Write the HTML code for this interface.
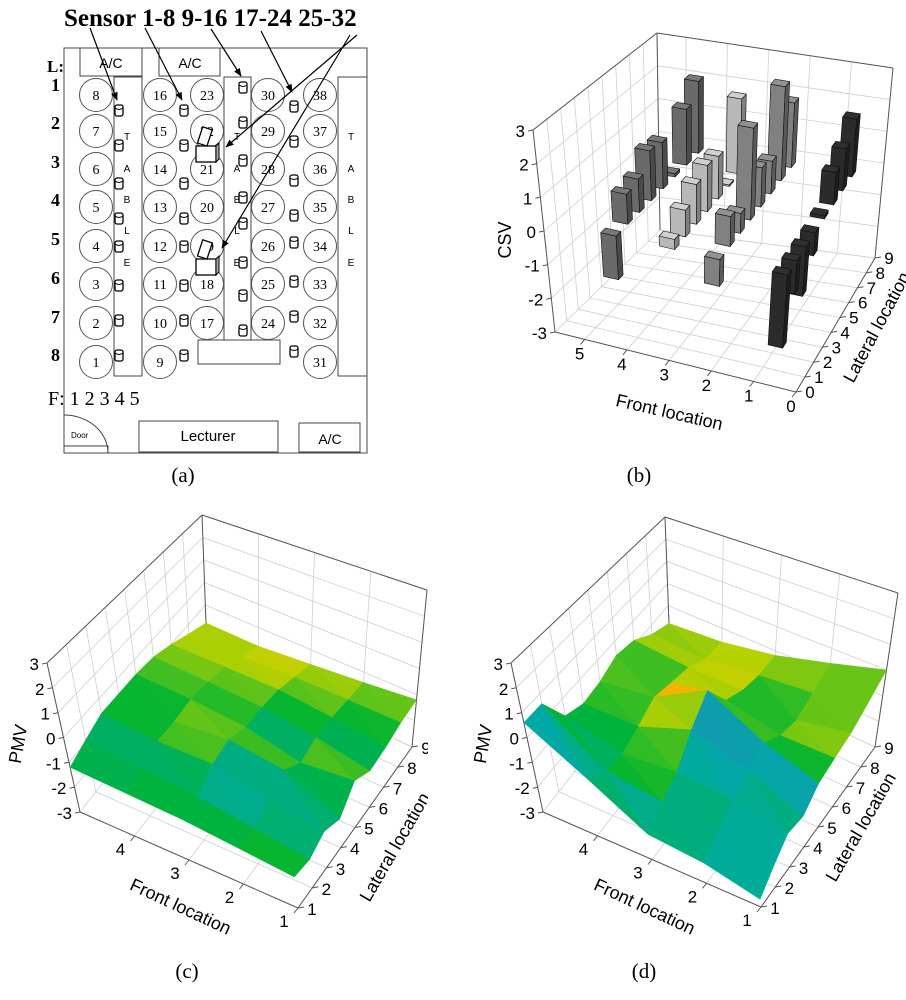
<!DOCTYPE html>
<html><head><meta charset="utf-8"><style>
html,body{margin:0;padding:0;background:#fff;}
svg{display:block;}
.serif{font-family:"Liberation Serif",serif;}
.sans{font-family:"Liberation Sans",sans-serif;}
</style></head><body>
<svg id="fig" width="906" height="1000" viewBox="0 0 906 1000" xmlns="http://www.w3.org/2000/svg">
<defs>
<marker id="arr" viewBox="0 0 10 10" refX="9" refY="5" markerWidth="7" markerHeight="7" orient="auto"><path d="M0,1 L10,5 L0,9 z" fill="#000"/></marker>
<clipPath id="clipc"><rect x="0" y="480" width="428" height="480"/></clipPath>
</defs>
<g id="panelA" class="serif">
  <text x="64" y="26" font-size="25" font-weight="bold">Sensor 1-8 9-16 17-24 25-32</text>
  <rect x="64" y="48" width="303" height="405" fill="none" stroke="#444" stroke-width="1"/>
  <rect x="80" y="48" width="62" height="28" fill="none" stroke="#444"/>
  <text x="111" y="68" font-size="14" text-anchor="middle" class="sans">A/C</text>
  <rect x="159" y="48" width="61" height="28" fill="none" stroke="#444"/>
  <text x="190" y="68" font-size="14" text-anchor="middle" class="sans">A/C</text>
  <text x="47" y="72" font-size="17" font-weight="bold">L:</text>
  <rect x="114" y="77" width="28" height="299" fill="none" stroke="#444"/>
  <rect x="224" y="77" width="27" height="263" fill="none" stroke="#444"/>
  <rect x="338" y="77" width="29" height="299" fill="none" stroke="#444"/>
  <rect x="198" y="340" width="82" height="24" fill="none" stroke="#444"/>
  <g id="rowNums"></g><g id="seats"></g><g id="tableLetters" class="sans"></g><g id="sensors"></g>
  <g><rect x="196" y="146" width="20" height="16" fill="#fff" stroke="#000" stroke-width="1.3"/><path d="M216,146 l3,-3 v16 l-3,3z" fill="#aaa" stroke="#000"/><rect x="200" y="128" width="10" height="17" fill="#fff" stroke="#000" stroke-width="1.3" transform="rotate(18 205 136)"/></g>
  <g><rect x="196" y="259" width="20" height="16" fill="#fff" stroke="#000" stroke-width="1.3"/><path d="M216,259 l3,-3 v16 l-3,3z" fill="#aaa" stroke="#000"/><rect x="200" y="241" width="10" height="17" fill="#fff" stroke="#000" stroke-width="1.3" transform="rotate(18 205 249)"/></g>
  <g stroke="#000" stroke-width="1.2" marker-end="url(#arr)">
    <line x1="90" y1="28" x2="117" y2="100"/><line x1="145" y1="28" x2="182" y2="100"/>
    <line x1="211" y1="29" x2="241" y2="76"/><line x1="261" y1="31" x2="292" y2="92"/>
    <line x1="357" y1="35" x2="226" y2="147"/><line x1="350" y1="35" x2="222" y2="248"/>
  </g>
  <text x="48" y="405" font-size="20">F: 1 2 3 4 5</text>
  <path d="M64,415 A44,38 0 0 1 108,453" fill="none" stroke="#444"/>
  <line x1="64" y1="415" x2="64" y2="453" stroke="#444"/>
  <rect x="64" y="446" width="44" height="7" fill="none" stroke="#444"/>
  <text x="71" y="438" font-size="8" class="sans">Door</text>
  <rect x="139" y="421" width="139" height="31" fill="none" stroke="#444"/>
  <text x="208" y="441" font-size="15" text-anchor="middle" class="sans">Lecturer</text>
  <rect x="299" y="423" width="61" height="29" fill="none" stroke="#444"/>
  <text x="330" y="444" font-size="14" text-anchor="middle" class="sans">A/C</text>
</g>
<g id="panelB"></g>
<g id="panelC" clip-path="url(#clipc)"></g>
<g id="panelD"></g>
<g class="serif" font-size="21" text-anchor="middle">
<text x="183" y="482">(a)</text>
<text x="639" y="482">(b)</text>
<text x="187" y="978">(c)</text>
<text x="644" y="978">(d)</text>
</g>
</svg>
<script>
// ---- data ----
const barFronts = [4.5, 3.2, 2.2, 0.7];
const barLaterals = [1, 2, 3, 4, 5, 6, 7, 8];
const csvRow1 = [-1.3, 0.9, 1.0, 1.5, 1.4, 0.1, 1.7, 2.2];
const csvRow2 = [0.3, 0.8, 1.2, 1.4, 1.3, 0.05, 2.3, 0.05];
const csvRow3 = [-0.8, 0.9, 0.6, 2.8, 1.2, 1.0, 2.9, 2.0];
const csvRow4 = [-2.2, -1.0, -1.5, -0.7, 0.1, 1.0, 1.3, 1.8];
const csvRows = [csvRow1, csvRow2, csvRow3, csvRow4];
const barColors = ['#5c5c5c', '#a0a0a0', '#707070', '#252525'];
const surfFronts = [1, 2, 3, 4, 5];
const surfLaterals = [1, 2, 3, 4, 5, 6, 7, 8, 9];
const pmvC_f1 = [-1.8, -1.9, -1.6, -1.9, -1.2, -1.6, -1.5, -1.3, -1.2];
const pmvC_f2 = [-1.6, -1.6, -1.3, -0.9, -1.4, -1.2, -1.2, -1.3, -1.4];
const pmvC_f3 = [-1.4, -1.3, -0.8, -0.6, -0.9, -0.9, -1.0, -1.3, -1.6];
const pmvC_f4 = [-1.3, -1.1, -0.8, -0.8, -0.7, -0.8, -1.0, -1.4, -1.8];
const pmvC_f5 = [-1.2, -0.9, -0.6, -0.6, -0.6, -0.7, -1.0, -1.4, -1.8];
const pmvD_f1 = [-2.7, -2.2, -1.7, -1.8, -1.3, -1.1, -0.9, -0.5, 0.0];
const pmvD_f2 = [-2.2, -1.8, -1.3, -0.9, -0.6, -1.1, -1.3, -1.0, -0.6];
const pmvD_f3 = [-2.0, -1.5, -1.1, -0.2, 0.6, -0.6, -1.0, -1.2, -1.2];
const pmvD_f4 = [-0.7, -1.2, -1.3, -1.0, -0.6, -0.8, -1.0, -1.5, -1.6];
const pmvD_f5 = [0.6, 0.6, -0.7, -1.0, -0.9, -0.6, -0.8, -1.4, -1.8];
const zTicks = [-3, -2, -1, 0, 1, 2, 3];
const frontTicksB = [0, 1, 2, 3, 4, 5];
const latTicksB = [0, 1, 2, 3, 4, 5, 6, 7, 8, 9];
const frontTicksS = [1, 2, 3, 4];
const latTicksS = [1, 2, 3, 4, 5, 6, 7, 8, 9];

const NS = 'http://www.w3.org/2000/svg';
function mk(tag, parent) { const e = document.createElementNS(NS, tag); parent.appendChild(e); return e; }

// ---- panel A static items ----
(function () {
  const rn = document.getElementById('rowNums');
  const ry = [85, 123, 162, 200, 239, 278, 317, 355];
  for (let i = 0; i < 8; i++) {
    const t = mk('text', rn);
    
    
    t.setAttribute('x', 51); t.setAttribute('y', ry[i] + 6); t.setAttribute('font-size', 18); t.setAttribute('font-weight', 'bold');
    t.textContent = String(i + 1);
  }
  const cols = [[96, 8, 1, 8], [160, 16, 9, 8], [207, 23, 17, 7], [268, 30, 24, 7], [320, 38, 31, 8]];
  const cy = [95, 131, 169, 207, 246, 284, 323, 362];
  const seats = document.getElementById('seats');
  cols.forEach(c => {
    for (let r = 0; r < c[3]; r++) {
      const ci = mk('circle', seats);
      
      
      ci.setAttribute('cx', c[0]); ci.setAttribute('cy', cy[r]); ci.setAttribute('r', 16.5);
      ci.setAttribute('fill', 'none'); ci.setAttribute('stroke', '#555');
      const t = mk('text', seats);
      
      
      t.setAttribute('x', c[0]); t.setAttribute('y', cy[r] + 5); t.setAttribute('font-size', 14); t.setAttribute('text-anchor', 'middle');
      t.textContent = String(c[1] - r);
    }
  });
  const tl = document.getElementById('tableLetters');
  const letters = ['T', 'A', 'B', 'L', 'E'], ly = [136, 168, 199, 230, 262];
  [127, 237, 351].forEach(x => letters.forEach((L, i) => {
    const t = mk('text', tl);
    
    
    t.setAttribute('x', x); t.setAttribute('y', ly[i] + 4); t.setAttribute('font-size', 10); t.setAttribute('text-anchor', 'middle');
    t.textContent = L;
  }));
  const sens = document.getElementById('sensors');
  const sc = [[119, [110, 145, 183, 218, 246, 285, 320, 355]], [184, [110, 145, 183, 218, 246, 285, 320, 355]],
    [243, [87, 122, 160, 197, 223, 262, 295, 330]], [294, [106, 141, 180, 215, 242, 281, 316, 351]]];
  sc.forEach(s => s[1].forEach(y => {
    const g = mk('g', sens);
    
    
    const r = mk('rect', g);
    r.setAttribute('x', s[0] - 4); r.setAttribute('y', y - 5); r.setAttribute('width', 8); r.setAttribute('height', 11); r.setAttribute('rx', 2);
    r.setAttribute('fill', '#fff'); r.setAttribute('stroke', '#000'); r.setAttribute('stroke-width', 1.3);
    const l = mk('path', g);
    l.setAttribute('d', `M${s[0] - 4},${y - 2} Q${s[0]},${y + 1} ${s[0] + 4},${y - 2}`);
    l.setAttribute('fill', 'none'); l.setAttribute('stroke', '#000');
  }));
})();

// ---- 3D helpers ----
function makeProj(C, fr, lr, zr) {
  return function (f, l, z) {
    const u = (f - fr[0]) / (fr[1] - fr[0]), v = (l - lr[0]) / (lr[1] - lr[0]), w = (z - zr[0]) / (zr[1] - zr[0]);
    let x = 0, y = 0;
    for (const k in C) {
      const a = k[0] === '1' ? u : 1 - u, b = k[1] === '1' ? v : 1 - v, c = k[2] === '1' ? w : 1 - w;
      x += a * b * c * C[k][0]; y += a * b * c * C[k][1];
    }
    return [x, y];
  };
}
function line(g, p, q, col, sw) {
  const e = mk('line', g);
  e.setAttribute('x1', p[0].toFixed(1)); e.setAttribute('y1', p[1].toFixed(1));
  e.setAttribute('x2', q[0].toFixed(1)); e.setAttribute('y2', q[1].toFixed(1));
  e.setAttribute('stroke', col); e.setAttribute('stroke-width', sw);
  return e;
}
function poly(g, pts, fill, stroke) {
  const e = mk('polygon', g);
  e.setAttribute('points', pts.map(p => p[0].toFixed(1) + ',' + p[1].toFixed(1)).join(' '));
  e.setAttribute('fill', fill);
  e.setAttribute('stroke', stroke || fill);
  e.setAttribute('stroke-width', stroke ? 0.6 : 0.5);
  e.setAttribute('stroke-linejoin', 'round');
  return e;
}
function txt(g, x, y, s, size, anchor, rot) {
  const e = mk('text', g);
  e.setAttribute('x', x.toFixed(1)); e.setAttribute('y', y.toFixed(1));
  e.setAttribute('font-size', size); e.setAttribute('text-anchor', anchor || 'middle');
  e.setAttribute('font-family', '"Liberation Sans", sans-serif');
  if (rot) e.setAttribute('transform', `rotate(${rot} ${x.toFixed(1)} ${y.toFixed(1)})`);
  e.textContent = s;
  return e;
}
function drawAxes(g, P, fr, lr, fTicks, lTicks, opt) {
  const grid = mk('g', g);
  
  
  const gc = '#cfcfcf';
  zTicks.forEach(z => { line(grid, P(fr[0], lr[0], z), P(fr[0], lr[1], z), gc, 0.8); line(grid, P(fr[0], lr[1], z), P(fr[1], lr[1], z), gc, 0.8); });
  lTicks.forEach(l => { line(grid, P(fr[0], l, -3), P(fr[0], l, 3), gc, 0.8); line(grid, P(fr[0], l, -3), P(fr[1], l, -3), gc, 0.8); });
  fTicks.forEach(f => { line(grid, P(f, lr[1], -3), P(f, lr[1], 3), gc, 0.8); line(grid, P(f, lr[0], -3), P(f, lr[1], -3), gc, 0.8); });
  const ax = mk('g', g);
  
  
  const ac = '#555';
  line(ax, P(fr[0], lr[0], -3), P(fr[0], lr[0], 3), ac, 1);
  line(ax, P(fr[0], lr[0], 3), P(fr[0], lr[1], 3), ac, 1);
  line(ax, P(fr[0], lr[1], 3), P(fr[1], lr[1], 3), ac, 1);
  line(ax, P(fr[1], lr[1], 3), P(fr[1], lr[1], -3), ac, 1);
  line(ax, P(fr[0], lr[0], -3), P(fr[1], lr[0], -3), ac, 1);
  line(ax, P(fr[1], lr[0], -3), P(fr[1], lr[1], -3), ac, 1);
  line(ax, P(fr[0], lr[1], -3), P(fr[0], lr[1], 3), ac, 1);
  const lab = mk('g', g);
  
  
  zTicks.forEach(z => {
    const p = P(fr[0], lr[0], z);
    line(lab, p, [p[0] - 5, p[1] + 1], ac, 1);
    txt(lab, p[0] - 8, p[1] + opt.zdy, String(z), 17, 'end');
  });
  fTicks.forEach(f => {
    const p = P(f, lr[0], -3);
    line(lab, p, [p[0] - 4, p[1] + 5], ac, 1);
    txt(lab, p[0] + opt.fdx, p[1] + opt.fdy, String(f), 17, 'middle');
  });
  lTicks.forEach(l => {
    const p = P(fr[1], l, -3);
    line(lab, p, [p[0] + 6, p[1] - 1], ac, 1);
    txt(lab, p[0] + opt.ldx, p[1] + opt.ldy, String(l), 17, 'middle');
  });
}
function ramp(t) {
  t = Math.max(0, Math.min(1, t));
  const stops = [[0, [40, 130, 190]], [0.25, [0, 170, 165]], [0.5, [0, 180, 50]], [0.78, [190, 210, 0]], [1, [240, 180, 0]]];
  for (let i = 0; i < stops.length - 1; i++) {
    const a = stops[i], b = stops[i + 1];
    if (t <= b[0]) {
      const s = (t - a[0]) / (b[0] - a[0]);
      return 'rgb(' + a[1].map((c, j) => Math.round(c + (b[1][j] - c) * s)).join(',') + ')';
    }
  }
  return 'rgb(240,180,0)';
}

// ---- panel B: bars ----
(function () {
  const g = document.getElementById('panelB');
  const fr = [5.7, 0], lr = [0, 9];
  const P = makeProj({ '000': [555, 332], '100': [796, 392], '110': [875, 258], '010': [660, 230], '001': [533, 130], '011': [657, 33], '111': [893, 68], '101': [813, 192] }, fr, lr, [-3, 3]);
  drawAxes(g, P, fr, lr, frontTicksB, latTicksB, { zdy: 7, fdx: -5, fdy: 20, ldx: 14, ldy: 6 });
  const bars = [];
  barFronts.forEach((f, i) => barLaterals.forEach((l, j) => bars.push({ f: f, l: l, v: csvRows[i][j], c: barColors[i] })));
  bars.sort((a, b) => P(a.f, a.l, 0)[1] - P(b.f, b.l, 0)[1]);
  const bg = mk('g', g);
  
  
  function shade(hex, k) {
    const n = parseInt(hex.slice(1), 16);
    return 'rgb(' + [n >> 16, (n >> 8) & 255, n & 255].map(c => Math.min(255, Math.round(c * k))).join(',') + ')';
  }
  bars.forEach(b => {
    const h = 0.17, hl = 0.2;
    const z0 = Math.min(0, b.v), z1 = Math.max(0, b.v);
    const bar = mk('g', bg);
    
    
    const fa = b.f + h, fb = b.f - h, la = b.l - hl, lb = b.l + hl;
    poly(bar, [P(fa, la, z0), P(fb, la, z0), P(fb, la, z1), P(fa, la, z1)], shade(b.c, 1.15), '#111');
    poly(bar, [P(fb, la, z0), P(fb, lb, z0), P(fb, lb, z1), P(fb, la, z1)], shade(b.c, 0.8), '#111');
    poly(bar, [P(fa, la, z1), P(fb, la, z1), P(fb, lb, z1), P(fa, lb, z1)], shade(b.c, 1.3), '#111');
  });
  txt(g, 511, 240, 'CSV', 18, 'middle', -90);
  txt(g, 668, 418, 'Front location', 18, 'middle', 13);
  txt(g, 882, 330, 'Lateral location', 18, 'middle', -62);
})();

// ---- surfaces ----
function drawSurface(gid, C, rows, titleOpts) {
  const g = document.getElementById(gid);
  const fr = [5, 1], lr = [1, 9];
  const P = makeProj(C, fr, lr, [-3, 3]);
  drawAxes(g, P, fr, lr, frontTicksS, latTicksS, { zdy: 7, fdx: -14, fdy: 19, ldx: 14, ldy: 7 });
  const sg = mk('g', g);
  
  
  const tris = [];
  for (let i = 0; i < surfFronts.length - 1; i++) {
    for (let j = 0; j < surfLaterals.length - 1; j++) {
      const f0 = surfFronts[i], f1 = surfFronts[i + 1], l0 = surfLaterals[j], l1 = surfLaterals[j + 1];
      const a = [f0, l0, rows[i][j]], b = [f1, l0, rows[i + 1][j]], c = [f1, l1, rows[i + 1][j + 1]], d = [f0, l1, rows[i][j + 1]];
      tris.push([a, b, c]); tris.push([a, c, d]);
    }
  }
  tris.forEach(t => {
    const u1 = [t[1][0] - t[0][0], t[1][1] - t[0][1], t[1][2] - t[0][2]];
    const u2 = [t[2][0] - t[0][0], t[2][1] - t[0][1], t[2][2] - t[0][2]];
    let n = [u1[1] * u2[2] - u1[2] * u2[1], u1[2] * u2[0] - u1[0] * u2[2], u1[0] * u2[1] - u1[1] * u2[0]];
    if (n[2] < 0) n = n.map(x => -x);
    const len = Math.hypot(n[0], n[1], n[2]);
    t.col = ramp(0.6 + 0.9 * (0.5 * n[0] + 0.45 * n[1]) / len);
    t.depth = Math.max(...t.map(p => P(p[0], p[1], -3)[1]));
  });
  tris.sort((a, b) => a.depth - b.depth);
  tris.forEach(t => {
    const e = poly(sg, t.map(p => P(p[0], p[1], p[2])), t.col);
    
    
  });
  txt(g, titleOpts.px, titleOpts.py, 'PMV', 18, 'middle', -80);
  txt(g, titleOpts.fx, titleOpts.fy, 'Front location', 18, 'middle', 25);
  txt(g, titleOpts.lx, titleOpts.ly, 'Lateral location', 18, 'middle', -60);
}
drawSurface('panelC', { '000': [80, 812], '100': [298, 908], '110': [412, 747], '010': [207, 650], '001': [47, 663], '011': [202, 515], '111': [427, 590], '101': [280, 753] },
  [pmvC_f1, pmvC_f2, pmvC_f3, pmvC_f4, pmvC_f5], { px: 24, py: 745, fx: 178, fy: 912, lx: 400, ly: 850 });
drawSurface('panelD', { '000': [543, 812], '100': [761, 907], '110': [875, 747], '010': [670, 650], '001': [511, 663], '011': [665, 517], '111': [898, 593], '101': [743, 753] },
  [pmvD_f1, pmvD_f2, pmvD_f3, pmvD_f4, pmvD_f5], { px: 489, py: 745, fx: 642, fy: 912, lx: 866, ly: 830 });
</script>
</body></html>
